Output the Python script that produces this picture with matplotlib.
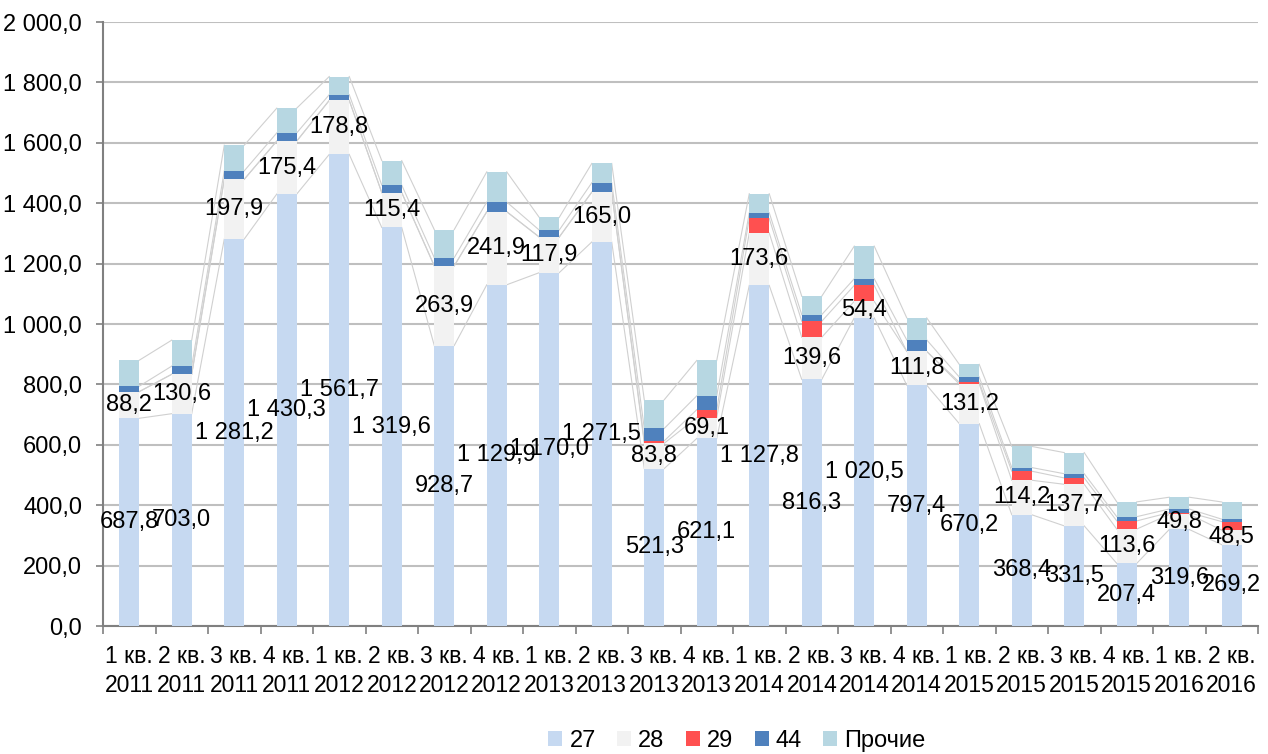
import matplotlib
matplotlib.use("Agg")
import matplotlib.pyplot as plt
import numpy as np
from matplotlib import font_manager

names = {f.name for f in font_manager.fontManager.ttflist}
fam = "Liberation Sans Narrow" if "Liberation Sans Narrow" in names else "Liberation Sans"
plt.rcParams['font.family'] = [fam, 'DejaVu Sans']

categories = ["1 кв.\n2011", "2 кв.\n2011", "3 кв.\n2011", "4 кв.\n2011",
              "1 кв.\n2012", "2 кв.\n2012", "3 кв.\n2012", "4 кв.\n2012",
              "1 кв.\n2013", "2 кв.\n2013", "3 кв.\n2013", "4 кв.\n2013",
              "1 кв.\n2014", "2 кв.\n2014", "3 кв.\n2014", "4 кв.\n2014",
              "1 кв.\n2015", "2 кв.\n2015", "3 кв.\n2015", "4 кв.\n2015",
              "1 кв.\n2016", "2 кв.\n2016"]
s27 = [687.8, 703.0, 1281.2, 1430.3, 1561.7, 1319.6, 928.7, 1129.9, 1170.0, 1271.5,
       521.3, 621.1, 1127.8, 816.3, 1020.5, 797.4, 670.2, 368.4, 331.5, 207.4, 319.6, 269.2]
s28 = [88.2, 130.6, 197.9, 175.4, 178.8, 115.4, 263.9, 241.9, 117.9, 165.0,
       83.8, 69.1, 173.6, 139.6, 54.4, 111.8, 131.2, 114.2, 137.7, 113.6, 49.8, 48.5]
s29 = [0, 0, 0, 0, 0, 0, 0, 0, 0, 0,
       8, 26, 48, 53, 53, 0, 6, 30, 21, 27, 6, 28]
s44 = [18, 27, 28, 27, 19, 25, 27, 32, 23, 31,
       41, 46, 19, 22, 22, 38, 17, 12, 14, 14, 12, 8]
s_other = [86, 86, 85, 82, 60, 81, 93, 100, 42, 64,
           95, 117, 63, 61, 108, 73, 42, 70, 70, 49, 39, 57]
series_names = ["27", "28", "29", "44", "Прочие"]
colors = ["#C6D9F1", "#F2F2F2", "#FF5050", "#4F81BD", "#B7D7E2"]

def fmt(v):
    s = f"{v:,.1f}".replace(",", " ").replace(".", ",")
    return s

fig = plt.figure(figsize=(12.68, 7.54), dpi=100)
ax = fig.add_axes([103/1268, 1-626/754, 1155/1268, 604/754])

x = np.arange(len(categories))
width = 0.38
data = [s27, s28, s29, s44, s_other]
bottom = np.zeros(len(categories))
tops = []
bars_list = []
for vals, c, n in zip(data, colors, series_names):
    vals = np.array(vals, dtype=float)
    b = ax.bar(x, vals, width, bottom=bottom, color=c, label=n, zorder=3, linewidth=0)
    bars_list.append((b, vals, bottom.copy()))
    bottom = bottom + vals
    tops.append(bottom.copy())

# series lines
for t in tops:
    for i in range(len(x) - 1):
        ax.plot([x[i] + width/2, x[i+1] - width/2], [t[i], t[i+1]],
                color="#D0D0D0", lw=0.8, zorder=2)

# labels for 27 and 28
for k in (0, 1):
    b, vals, bot = bars_list[k]
    for i in range(len(x)):
        ax.text(x[i], bot[i] + vals[i]/2, fmt(vals[i]), ha="center", va="center",
                fontsize=17, color="black", zorder=5)

ax.set_ylim(0, 2000)
ax.set_xlim(-0.5, len(categories) - 0.5)
yt = np.arange(0, 2001, 200)
ax.set_yticks(yt)
ax.set_yticklabels([fmt(v) for v in yt], fontsize=17)
ax.yaxis.grid(True, color="#BFBFBF", lw=1.5, zorder=0)
ax.set_axisbelow(True)

ax.set_xticks(x)
ax.set_xticklabels(categories, fontsize=16.5, linespacing=1.3)
ax.tick_params(axis="x", length=0, pad=14)
ax.set_xticks(np.arange(-0.5, len(categories), 1), minor=True)
ax.tick_params(axis="x", which="minor", length=6, color="#808080", width=1.2)
ax.tick_params(axis="y", length=5, color="#808080", width=1.2, pad=10)

for s in ("top", "right"):
    ax.spines[s].set_visible(False)
for s in ("left", "bottom"):
    ax.spines[s].set_color("#808080")
    ax.spines[s].set_linewidth(1.5)

handles = [b for (b, _, _) in bars_list]
leg = fig.legend(handles, series_names, loc="center", bbox_to_anchor=(737/1268, 1-741/754),
                 ncol=5, frameon=False, fontsize=17, handlelength=0.6, handleheight=0.6,
                 handletextpad=0.3, columnspacing=0.9)

fig.savefig("out.png", dpi=100)
